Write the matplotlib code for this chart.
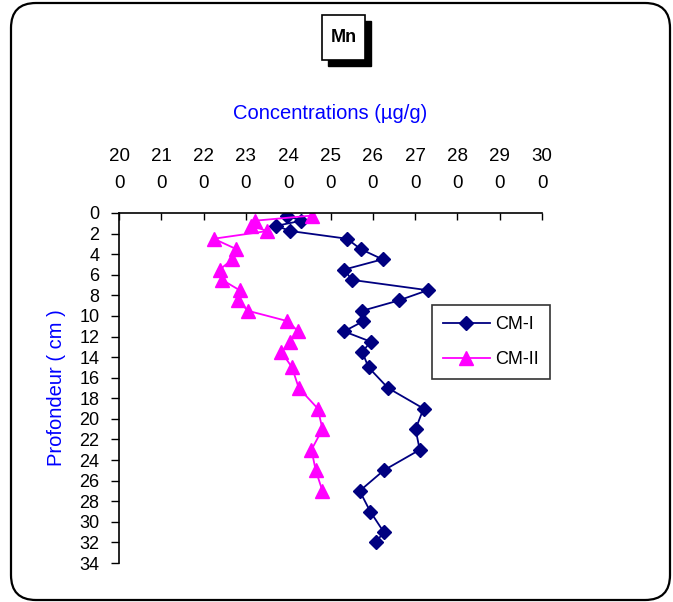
import matplotlib.pyplot as plt
from matplotlib.patches import FancyBboxPatch, Rectangle

plt.rcParams['font.family'] = ['Liberation Sans', 'DejaVu Sans']

# Profondeur (cm) et concentrations en Mn (µg/g)
prof_cm1 = [0.25, 0.75, 1.25, 1.75, 2.5, 3.5, 4.5, 5.5, 6.5, 7.5, 8.5, 9.5, 10.5,
            11.5, 12.5, 13.5, 15, 17, 19, 21, 23, 25, 27, 29, 31, 32]
mn_cm1 = [239.6, 243.1, 237.2, 240.5, 253.9, 257.1, 262.3, 253.2, 255.1, 273.0,
          266.1, 257.5, 257.8, 253.2, 259.5, 257.5, 259.0, 263.6, 272.0, 270.1,
          271.1, 262.6, 256.9, 259.4, 262.6, 260.7]

prof_cm2 = [0.25, 0.75, 1.25, 1.75, 2.5, 3.5, 4.5, 5.5, 6.5, 7.5, 8.5, 9.5, 10.5,
            11.5, 12.5, 13.5, 15, 17, 19, 21, 23, 25, 27]
mn_cm2 = [245.6, 232.1, 231.3, 235.1, 222.4, 227.7, 226.8, 223.8, 224.4, 228.5,
          228.1, 230.5, 239.8, 242.4, 240.4, 238.4, 240.9, 242.5, 247.0, 248.1,
          245.5, 246.5, 248.1]

x_ticks = list(range(200, 301, 10))
y_ticks = list(range(0, 35, 2))

W, H = 673, 602
fig = plt.figure(figsize=(W / 100, H / 100), dpi=100)

# cadre arrondi autour du graphique
frame = FancyBboxPatch((0.36, 0.27), 6.09, 5.47,
                       boxstyle="round,pad=0.25", transform=fig.dpi_scale_trans,
                       facecolor='none', edgecolor='black', linewidth=1.6,
                       zorder=-1)
fig.patches.append(frame)

ax = fig.add_axes([119 / W, 1 - 563 / H, (542 - 119) / W, (563 - 213) / H])
ax.patch.set_alpha(0)

ax.plot(mn_cm1, prof_cm1, color='#000080', marker='D', markersize=7.5,
        linewidth=1.3, label='CM-I')
ax.plot(mn_cm2, prof_cm2, color='#FF00FF', marker='^', markersize=10,
        linewidth=1.3, label='CM-II')

ax.set_xlim(200, 300)
ax.set_ylim(34, 0)
ax.set_xticks(x_ticks)
ax.set_xticklabels([f"{str(v)[:2]}\n{str(v)[2:]}" for v in x_ticks],
                   fontsize=13.5, linespacing=1.75)
ax.set_yticks(y_ticks)
ax.set_yticklabels([str(v) for v in y_ticks], fontsize=13)

ax.xaxis.tick_top()
ax.xaxis.set_label_position('top')
ax.tick_params(axis='x', direction='in', length=5, width=1, pad=15)
ax.tick_params(axis='y', direction='out', length=6, width=1, pad=8)
for s in ['right', 'bottom']:
    ax.spines[s].set_visible(False)
ax.spines['top'].set_linewidth(1.2)
ax.spines['left'].set_linewidth(1.2)

ax.set_xlabel('Concentrations (µg/g)', color='#0000FF', fontsize=14.5, labelpad=21)
ax.set_ylabel('Profondeur ( cm )', color='#0000FF', fontsize=14.5, labelpad=10)

leg = ax.legend(loc='upper left', bbox_to_anchor=(432 / W, 1 - 305 / H),
                bbox_transform=fig.transFigure, fontsize=13,
                frameon=True, fancybox=False, edgecolor='black',
                handlelength=2.6, labelspacing=1.0, borderpad=0.6,
                handletextpad=0.3, borderaxespad=0)
leg.get_frame().set_linewidth(1.2)

# titre encadré avec ombre
fig.patches.append(Rectangle(((322 + 6) / 100, (H - 60 - 6) / 100), 0.43, 0.45,
                             transform=fig.dpi_scale_trans, facecolor='black',
                             edgecolor='black'))
fig.patches.append(Rectangle((322 / 100, (H - 60) / 100), 0.43, 0.45,
                             transform=fig.dpi_scale_trans, facecolor='white',
                             edgecolor='black', linewidth=1.2))
fig.text(343.5 / W, 1 - 37.5 / H, 'Mn', ha='center', va='center',
         fontsize=13, fontweight='bold')

fig.savefig('out.png', dpi=100)
